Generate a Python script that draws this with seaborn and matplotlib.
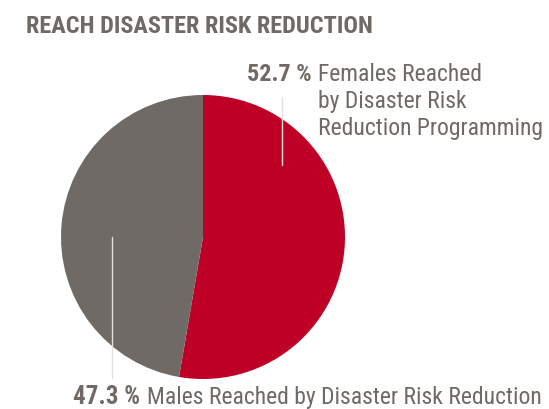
import matplotlib
matplotlib.use("Agg")
import matplotlib.pyplot as plt
import seaborn as sns

# datos
grupos = ["Females", "Males"]
porcentajes = [52.7, 47.3]
colores = ["#BE0027", "#6F6A66"]
titulo = "REACH DISASTER RISK REDUCTION"
etiqueta_f = "Females Reached\nby Disaster Risk\nReduction Programming"
etiqueta_m = "Males Reached by Disaster Risk Reduction"

sns.set_theme(style="white")
plt.rcParams["font.family"] = ["Roboto Condensed", "DejaVu Sans"]

texto_gris = "#6F6A66"

fig = plt.figure(figsize=(5.49, 4.09), dpi=100)
# eje del pastel: centro (203, 237) px, radio 142 px
ax = fig.add_axes([(203 - 142) / 549, (409 - 237 - 142) / 409, 284 / 549, 284 / 409])
ax.pie(porcentajes, colors=colores, startangle=90, counterclock=False,
       wedgeprops={"linewidth": 0})
ax.set_xlim(-1, 1)
ax.set_ylim(-1, 1)
ax.set_aspect("equal")
ax.axis("off")

# lineas guia
ax.plot([0.556, 0.556], [0.986, 0.507], color="#E3E0DE", lw=1, zorder=5)
ax.plot([-0.643, -0.643], [0.0, -0.993], color="#E3E0DE", lw=1, zorder=5, clip_on=False)

# titulo
fig.text(26 / 549, 1 - 33 / 409, titulo, fontsize=17.5, fontweight="bold",
         color=texto_gris, va="baseline", ha="left")

# etiqueta mujeres
t1 = fig.text(247 / 549, 1 - 81 / 409, f"{porcentajes[0]} %", fontsize=17.5,
              fontweight="bold", color=texto_gris, va="baseline", ha="left")
ax.annotate(etiqueta_f, xy=(1, 1), xycoords=t1, xytext=(6, 0),
            textcoords="offset pixels", va="top", ha="left",
            fontsize=17, color=texto_gris, linespacing=1.22)

# etiqueta hombres
t2 = fig.text(73 / 549, 1 - 404 / 409, f"{porcentajes[1]} %", fontsize=18,
              fontweight="bold", color=texto_gris, va="baseline", ha="left")
ax.annotate(etiqueta_m, xy=(1, 0), xycoords=t2, xytext=(7, 0),
            textcoords="offset pixels", va="bottom", ha="left",
            fontsize=17, color=texto_gris)

fig.savefig("out.png", dpi=100)
